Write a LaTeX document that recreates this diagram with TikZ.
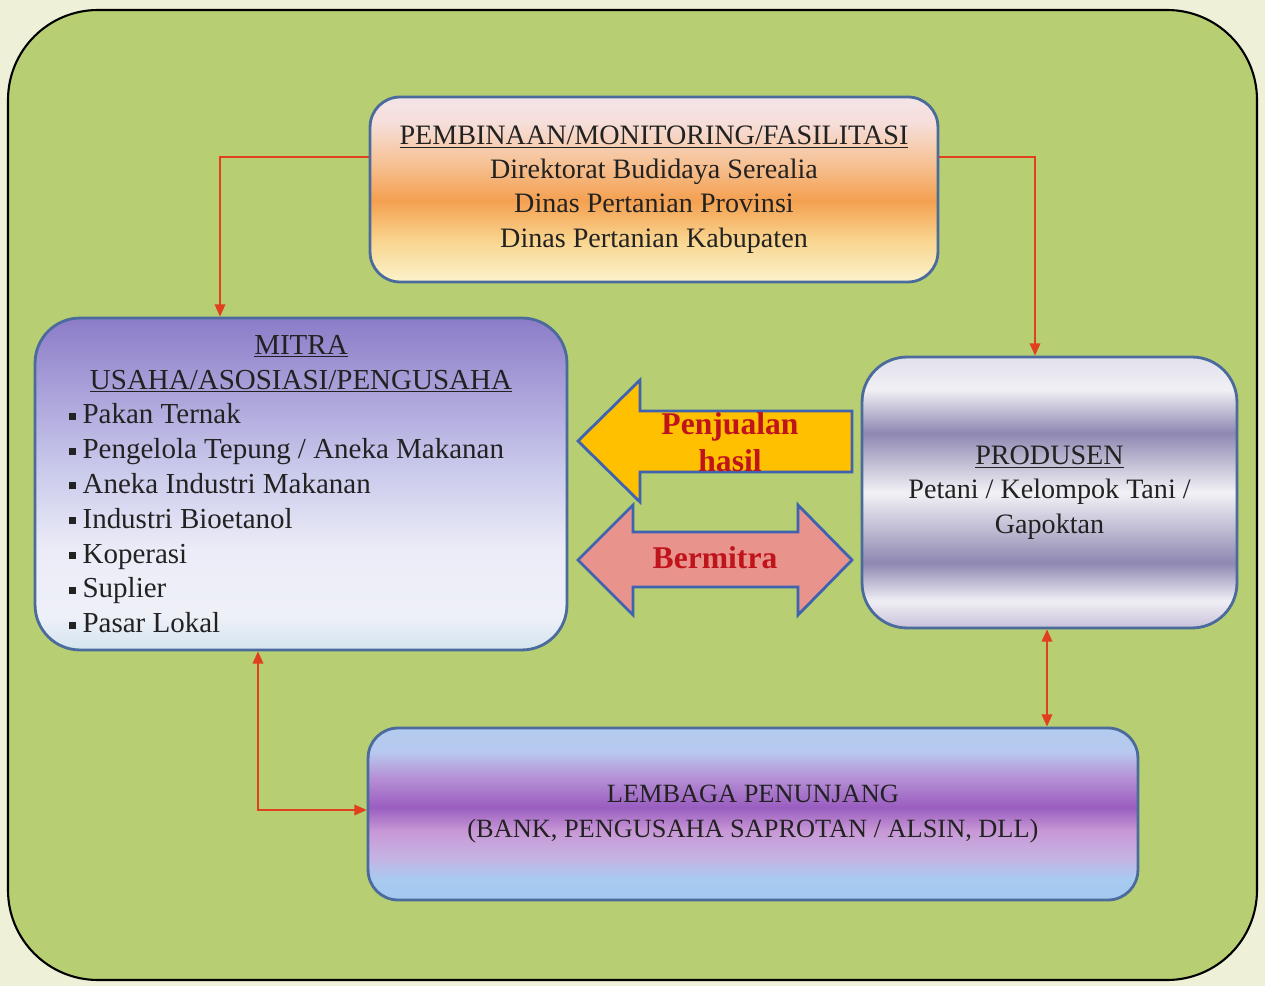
\documentclass[tikz,border=0pt]{standalone}
\usepackage{fontspec}
\setmainfont{Liberation Serif}
\usetikzlibrary{arrows.meta}

\definecolor{cream}{HTML}{EEF0D8}
\definecolor{bggreen}{HTML}{B7CF72}
\definecolor{boxblue}{HTML}{4B6B9C}
\definecolor{linkred}{HTML}{E0401E}
\definecolor{arrowblue}{HTML}{3F63B0}
\definecolor{jualyellow}{HTML}{FFC000}
\definecolor{mitrapink}{HTML}{E8938C}
\definecolor{tulisred}{HTML}{C0141C}
\definecolor{tulis}{HTML}{222222}

% vertical shadings, 0bp = bottom, 25bp..75bp = the box
\pgfdeclareverticalshading{pembshade}{100bp}{color(0bp)=(rgb,255:red,250;green,242;blue,204); color(25bp)=(rgb,255:red,250;green,242;blue,204);
  color(36bp)=(rgb,255:red,249;green,214;blue,144); color(47bp)=(rgb,255:red,244;green,160;blue,80); color(58bp)=(rgb,255:red,246;green,196;blue,154);
  color(68bp)=(rgb,255:red,246;green,222;blue,218); color(75bp)=(rgb,255:red,244;green,228;blue,232); color(100bp)=(rgb,255:red,244;green,228;blue,232)}
\pgfdeclareverticalshading{mitrashade}{100bp}{color(0bp)=(rgb,255:red,212;green,228;blue,238); color(25bp)=(rgb,255:red,212;green,228;blue,238);
  color(30bp)=(rgb,255:red,238;green,240;blue,248); color(40bp)=(rgb,255:red,236;green,236;blue,248); color(52bp)=(rgb,255:red,202;green,202;blue,236);
  color(65bp)=(rgb,255:red,167;green,158;blue,216); color(75bp)=(rgb,255:red,140;green,124;blue,200); color(100bp)=(rgb,255:red,140;green,124;blue,200)}
\pgfdeclareverticalshading{prodshade}{100bp}{color(0bp)=(rgb,255:red,200;green,194;blue,218); color(25bp)=(rgb,255:red,200;green,194;blue,218);
  color(30bp)=(rgb,255:red,240;green,238;blue,244); color(37bp)=(rgb,255:red,142;green,136;blue,178); color(50bp)=(rgb,255:red,242;green,242;blue,246);
  color(61bp)=(rgb,255:red,142;green,136;blue,178); color(69bp)=(rgb,255:red,240;green,240;blue,244); color(75bp)=(rgb,255:red,226;green,224;blue,236); color(100bp)=(rgb,255:red,226;green,224;blue,236)}
\pgfdeclareverticalshading{lembshade}{100bp}{color(0bp)=(rgb,255:red,164;green,200;blue,240); color(25bp)=(rgb,255:red,164;green,200;blue,240);
  color(31bp)=(rgb,255:red,168;green,202;blue,240); color(37bp)=(rgb,255:red,196;green,180;blue,228); color(45bp)=(rgb,255:red,200;green,152;blue,214);
  color(52bp)=(rgb,255:red,154;green,94;blue,192); color(60bp)=(rgb,255:red,180;green,140;blue,212); color(68bp)=(rgb,255:red,184;green,200;blue,238);
  color(75bp)=(rgb,255:red,178;green,204;blue,238); color(100bp)=(rgb,255:red,178;green,204;blue,238)}

\newcommand{\kotak}{\rule[0.3ex]{4pt}{4pt}\hspace{4pt}}

\begin{document}
\begin{tikzpicture}[x=0.02cm,y=-0.02cm,
    font=\fontsize{16}{19.5}\selectfont, text=tulis,
    >={Triangle[length=7pt,width=6pt]},
    box/.style={draw=boxblue,line width=1.6pt,rounded corners=0.6cm,align=center,inner sep=0pt,shade},
    link/.style={draw=linkred,line width=1.1pt,->},
    blok/.style={draw=arrowblue,line width=1.6pt,line join=miter},
    bloktext/.style={text=tulisred,align=center,font=\fontsize{18}{21}\selectfont\bfseries}]
  \fill[cream] (0,0) rectangle (1265,986);
  \draw[line width=1.2pt,fill=bggreen,rounded corners=1.8cm] (8,10) rectangle (1257,980);

  \node[box,shading=pembshade,minimum width=11.36cm,minimum height=3.7cm] at (654,189.5) (pemb)
    {\underline{PEMBINAAN/MONITORING/FASILITASI}\\Direktorat Budidaya Serealia\\Dinas Pertanian Provinsi\\Dinas Pertanian Kabupaten};
  \node[box,rounded corners=0.9cm,shading=mitrashade,minimum width=10.64cm,minimum height=6.64cm] at (301,484) (mitra)
    {\begin{minipage}{9.3cm}\fontsize{16.5}{19.8}\selectfont\centering
      \underline{MITRA}\\\underline{USAHA/ASOSIASI/PENGUSAHA}\par\raggedright
      \kotak Pakan Ternak\\
      \kotak Pengelola Tepung / Aneka Makanan\\
      \kotak Aneka Industri Makanan\\
      \kotak Industri Bioetanol\\
      \kotak Koperasi\\
      \kotak Suplier\\
      \kotak Pasar Lokal
    \end{minipage}};
  \node[box,rounded corners=0.9cm,shading=prodshade,minimum width=7.5cm,minimum height=5.42cm] at (1049.5,492.5) (prod)
    {\underline{PRODUSEN}\\Petani / Kelompok Tani /\\Gapoktan};
  \node[box,shading=lembshade,minimum width=15.4cm,minimum height=3.44cm,font=\fontsize{15}{20}\selectfont] at (753,814) (lemb)
    {LEMBAGA PENUNJANG\\(BANK, PENGUSAHA SAPROTAN / ALSIN, DLL)};

  % block arrows between the boxes
  \draw[blok,fill=jualyellow] (578,441) -- (640,380) -- (640,411) -- (852,411) -- (852,472)
    -- (640,472) -- (640,502) -- cycle;
  \node[bloktext] at (730,442) (jual) {Penjualan\\hasil};
  \draw[blok,fill=mitrapink] (578,560) -- (633,505) -- (633,532) -- (798,532) -- (798,505)
    -- (852,560) -- (798,615) -- (798,587) -- (633,587) -- (633,615) -- cycle;
  \node[bloktext] at (715,558) (bermitra) {Bermitra};

  \draw[link] (pemb.west |- 0,157) -| (mitra.north -| 220,0);
  \draw[link] (pemb.east |- 0,157) -| (prod.north -| 1035,0);
  \draw[link,<->] (prod.south -| 1047,0) -- (lemb.north -| 1047,0);
  \draw[link,<->] (mitra.south -| 258,0) |- (lemb.west |- 0,810);
\end{tikzpicture}
\end{document}
